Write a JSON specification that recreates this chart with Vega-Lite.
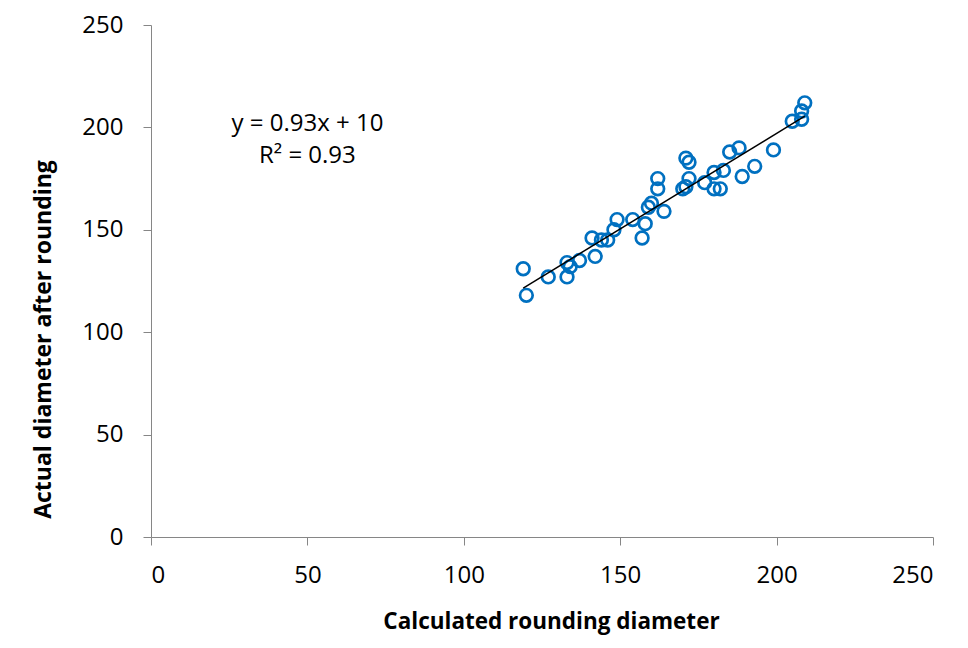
{
  "$schema": "https://vega.github.io/schema/vega-lite/v6.json",
  "autosize": {"type": "none"},
  "width": 782,
  "height": 512,
  "padding": {"left": 151, "top": 25, "right": 35, "bottom": 111},
  "background": "white",
  "config": {
    "view": {"stroke": null},
    "font": "Open Sans",
    "axis": {
      "grid": false,
      "domainColor": "#868686",
      "tickColor": "#868686",
      "tickSize": 8,
      "labelFont": "Open Sans",
      "labelFontSize": 24,
      "labelColor": "#000000",
      "titleFont": "Open Sans",
      "titleFontSize": 22.5,
      "titleFontWeight": "bold",
      "titleColor": "#000000"
    }
  },
  "data": {
    "values": [
      {"calc": 119, "actual": 131}, {"calc": 120, "actual": 118}, {"calc": 127, "actual": 127},
      {"calc": 133, "actual": 134}, {"calc": 133, "actual": 127}, {"calc": 134, "actual": 132},
      {"calc": 137, "actual": 135}, {"calc": 142, "actual": 137}, {"calc": 141, "actual": 146},
      {"calc": 144, "actual": 145}, {"calc": 146, "actual": 145}, {"calc": 148, "actual": 150},
      {"calc": 149, "actual": 155}, {"calc": 154, "actual": 155}, {"calc": 157, "actual": 146},
      {"calc": 158, "actual": 153}, {"calc": 159, "actual": 161}, {"calc": 160, "actual": 163},
      {"calc": 162, "actual": 175}, {"calc": 162, "actual": 170}, {"calc": 164, "actual": 159},
      {"calc": 171, "actual": 185}, {"calc": 172, "actual": 183}, {"calc": 170, "actual": 170},
      {"calc": 171, "actual": 171}, {"calc": 172, "actual": 175}, {"calc": 177, "actual": 173},
      {"calc": 180, "actual": 178}, {"calc": 180, "actual": 170}, {"calc": 182, "actual": 170},
      {"calc": 183, "actual": 179}, {"calc": 185, "actual": 188}, {"calc": 188, "actual": 190},
      {"calc": 189, "actual": 176}, {"calc": 193, "actual": 181}, {"calc": 199, "actual": 189},
      {"calc": 205, "actual": 203}, {"calc": 208, "actual": 204}, {"calc": 208, "actual": 208},
      {"calc": 209, "actual": 212}
    ]
  },
  "layer": [
    {
      "mark": {"type": "point", "shape": "circle", "filled": false, "stroke": "#0070C0", "strokeWidth": 2.7, "size": 160, "opacity": 1},
      "encoding": {
        "x": {
          "field": "calc", "type": "quantitative",
          "scale": {"domain": [0, 250], "nice": false, "zero": true},
          "axis": {
            "values": [0, 50, 100, 150, 200, 250],
            "labelPadding": 18,
            "title": "Calculated rounding diameter",
            "titleX": 400,
            "titleY": 91,
            "titleBaseline": "alphabetic",
            "titleAlign": "center"
          }
        },
        "y": {
          "field": "actual", "type": "quantitative",
          "scale": {"domain": [0, 250], "nice": false, "zero": true},
          "axis": {
            "values": [0, 50, 100, 150, 200, 250],
            "labelPadding": 20,
            "title": "Actual diameter after rounding",
            "titleAngle": -90,
            "titleFontSize": 23,
            "titleX": -101,
            "titleY": 314,
            "titleBaseline": "alphabetic",
            "titleAlign": "center"
          }
        }
      }
    },
    {
      "transform": [{"regression": "actual", "on": "calc", "method": "linear"}],
      "mark": {"type": "line", "color": "#000000", "strokeWidth": 1.5},
      "encoding": {
        "x": {"field": "calc", "type": "quantitative"},
        "y": {"field": "actual", "type": "quantitative"}
      }
    },
    {
      "transform": [{"aggregate": [{"op": "count", "as": "n"}]}],
      "mark": {"type": "text", "align": "center", "baseline": "alphabetic", "fontSize": 24, "font": "Open Sans", "lineHeight": 32, "color": "#000000"},
      "encoding": {
        "x": {"datum": 50, "type": "quantitative"},
        "y": {"datum": 198, "type": "quantitative"},
        "text": {"value": ["y = 0.93x + 10", "R² = 0.93"]}
      }
    }
  ]
}
